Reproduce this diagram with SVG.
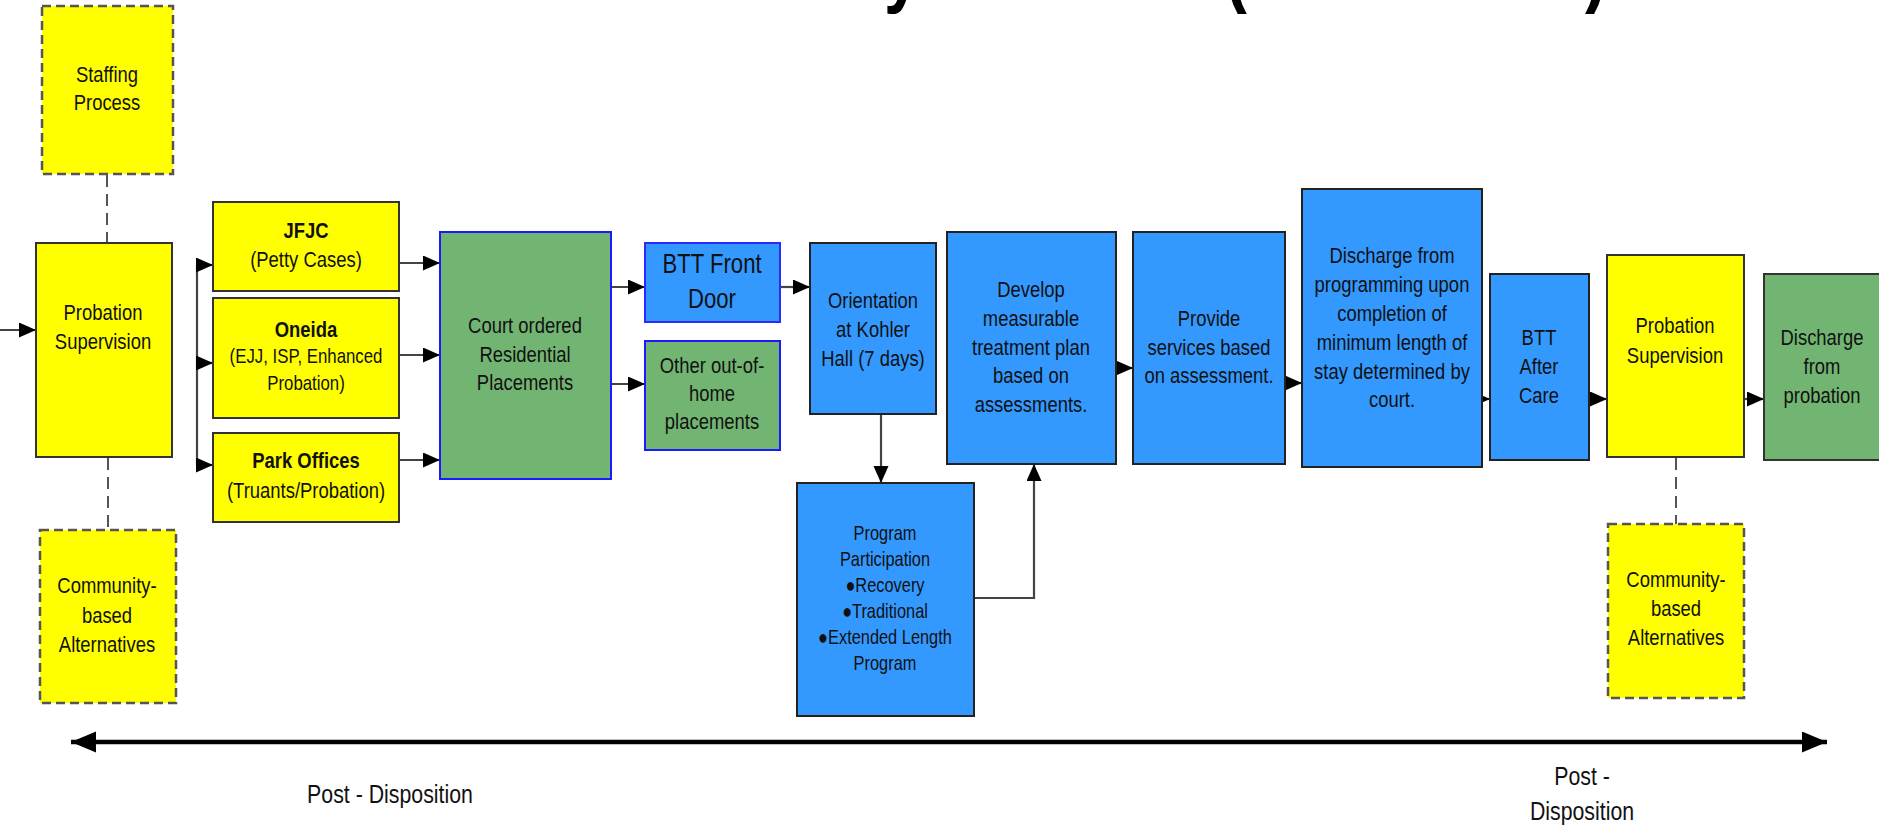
<svg xmlns="http://www.w3.org/2000/svg" width="1879" height="829" viewBox="0 0 1879 829">
<style>
text{font-family:"Liberation Sans",Arial,sans-serif;fill:#111;text-anchor:middle;font-size:22.5px}
.b{font-weight:bold}
.yel{fill:#ffff00;stroke:#333;stroke-width:2}
.dash{fill:#ffff00;stroke:#555;stroke-width:2.5;stroke-dasharray:9 5}
.blu{fill:#3399ff;stroke:#222;stroke-width:2}
.blub{fill:#3399ff;stroke:#2a2aff;stroke-width:2}
.grn{fill:#72b572;stroke:#1a1aff;stroke-width:2}
.grnd{fill:#72b572;stroke:#333;stroke-width:2}
.c{fill:none;stroke:#444;stroke-width:2.2}
.cd{fill:none;stroke:#555;stroke-width:2;stroke-dasharray:12 7}
.tl{fill:none;stroke:#000;stroke-width:4.5}
.title{font-size:80px;font-weight:bold;fill:#000;text-anchor:start}
</style>
<defs>
<marker id="ah" markerUnits="userSpaceOnUse" markerWidth="18" markerHeight="16" refX="17" refY="7.5" orient="auto">
<path d="M0,0 L17,7.5 L0,15 z" fill="#000"/>
</marker>
<marker id="big" markerUnits="userSpaceOnUse" markerWidth="26" markerHeight="22" refX="25" refY="10.5" orient="auto-start-reverse">
<path d="M0,0 L25,10.5 L0,21 z" fill="#000"/>
</marker>
</defs>
<rect width="1879" height="829" fill="#fff"/>
<g id="title-fragments">
<text class="title" x="884" y="-3" transform="translate(884 0) scale(0.82 1) translate(-884 0)">y</text>
<text class="title" x="1225" y="-3" transform="translate(1225 0) scale(0.82 1) translate(-1225 0)">(</text>
<text class="title" x="1585" y="-3" transform="translate(1585 0) scale(0.82 1) translate(-1585 0)">)</text>
</g>
<g id="connectors">
<line class="c" x1="0" y1="330" x2="36" y2="330" marker-end="url(#ah)"/>
<line class="c" x1="197" y1="265" x2="197" y2="465"/>
<line class="c" x1="196" y1="265" x2="213" y2="265" marker-end="url(#ah)"/>
<line class="c" x1="196" y1="363" x2="213" y2="363" marker-end="url(#ah)"/>
<line class="c" x1="196" y1="465" x2="213" y2="465" marker-end="url(#ah)"/>
<line class="c" x1="399" y1="263" x2="440" y2="263" marker-end="url(#ah)"/>
<line class="c" x1="399" y1="355" x2="440" y2="355" marker-end="url(#ah)"/>
<line class="c" x1="399" y1="460" x2="440" y2="460" marker-end="url(#ah)"/>
<line class="c" x1="611" y1="287" x2="645" y2="287" marker-end="url(#ah)"/>
<line class="c" x1="611" y1="384" x2="645" y2="384" marker-end="url(#ah)"/>
<line class="c" x1="780" y1="287" x2="810" y2="287" marker-end="url(#ah)"/>
<line class="c" x1="881" y1="414" x2="881" y2="483" marker-end="url(#ah)"/>
<path class="c" d="M974,598 H1034 V464" marker-end="url(#ah)"/>
<line class="c" x1="1116" y1="368" x2="1133" y2="368" marker-end="url(#ah)"/>
<line class="c" x1="1285" y1="383" x2="1302" y2="383" marker-end="url(#ah)"/>
<line class="c" x1="1482" y1="399" x2="1490" y2="399" marker-end="url(#ah)"/>
<line class="c" x1="1589" y1="399" x2="1607" y2="399" marker-end="url(#ah)"/>
<line class="c" x1="1744" y1="399" x2="1764" y2="399" marker-end="url(#ah)"/>
<line class="cd" x1="107" y1="175" x2="107" y2="243"/>
<line class="cd" x1="108" y1="458" x2="108" y2="530"/>
<line class="cd" x1="1676" y1="458" x2="1676" y2="524"/>
<line class="tl" x1="71" y1="742" x2="1827" y2="742" marker-start="url(#big)" marker-end="url(#big)"/>
</g>
<g id="staffing">
<rect class="dash" x="42" y="6" width="131" height="168"/>
<text transform="translate(107 0) scale(0.82 1)"><tspan x="0" y="82">Staffing</tspan><tspan x="0" y="110">Process</tspan></text>
</g>
<g id="probation1">
<rect class="yel" x="36" y="243" width="136" height="214"/>
<text transform="translate(103 0) scale(0.82 1)"><tspan x="0" y="320">Probation</tspan><tspan x="0" y="349">Supervision</tspan></text>
</g>
<g id="community1">
<rect class="dash" x="40" y="530" width="136" height="173"/>
<text transform="translate(107 0) scale(0.82 1)"><tspan x="0" y="593">Community-</tspan><tspan x="0" y="623">based</tspan><tspan x="0" y="652">Alternatives</tspan></text>
</g>
<g id="jfjc">
<rect class="yel" x="213" y="202" width="186" height="89"/>
<text transform="translate(306 0) scale(0.82 1)"><tspan class="b" x="0" y="238">JFJC</tspan><tspan x="0" y="267">(Petty Cases)</tspan></text>
</g>
<g id="oneida">
<rect class="yel" x="213" y="298" width="186" height="120"/>
<text transform="translate(306 0) scale(0.82 1)"><tspan class="b" x="0" y="337">Oneida</tspan><tspan x="0" y="363" style="font-size:20.5px">(EJJ, ISP, Enhanced</tspan><tspan x="0" y="390" style="font-size:20.5px">Probation)</tspan></text>
</g>
<g id="park">
<rect class="yel" x="213" y="433" width="186" height="89"/>
<text transform="translate(306 0) scale(0.82 1)"><tspan class="b" x="0" y="468">Park Offices</tspan><tspan x="0" y="498">(Truants/Probation)</tspan></text>
</g>
<g id="court">
<rect class="grn" x="440" y="232" width="171" height="247"/>
<text transform="translate(525 0) scale(0.82 1)"><tspan x="0" y="333">Court ordered</tspan><tspan x="0" y="362">Residential</tspan><tspan x="0" y="390">Placements</tspan></text>
</g>
<g id="btt-front-door">
<rect class="blub" x="645" y="243" width="135" height="79"/>
<text transform="translate(712 0) scale(0.82 1)" style="font-size:27px"><tspan x="0" y="273">BTT Front</tspan><tspan x="0" y="308">Door</tspan></text>
</g>
<g id="other-placements">
<rect class="grn" x="645" y="341" width="135" height="109"/>
<text transform="translate(712 0) scale(0.82 1)"><tspan x="0" y="373">Other out-of-</tspan><tspan x="0" y="401">home</tspan><tspan x="0" y="429">placements</tspan></text>
</g>
<g id="orientation">
<rect class="blu" x="810" y="243" width="126" height="171"/>
<text transform="translate(873 0) scale(0.82 1)"><tspan x="0" y="308">Orientation</tspan><tspan x="0" y="337">at Kohler</tspan><tspan x="0" y="366">Hall (7 days)</tspan></text>
</g>
<g id="develop">
<rect class="blu" x="947" y="232" width="169" height="232"/>
<text transform="translate(1031 0) scale(0.82 1)"><tspan x="0" y="297">Develop</tspan><tspan x="0" y="326">measurable</tspan><tspan x="0" y="355">treatment plan</tspan><tspan x="0" y="383">based on</tspan><tspan x="0" y="412">assessments.</tspan></text>
</g>
<g id="provide">
<rect class="blu" x="1133" y="232" width="152" height="232"/>
<text transform="translate(1209 0) scale(0.82 1)"><tspan x="0" y="326">Provide</tspan><tspan x="0" y="355">services based</tspan><tspan x="0" y="383">on assessment.</tspan></text>
</g>
<g id="program">
<rect class="blu" x="797" y="483" width="177" height="233"/>
<text transform="translate(885 0) scale(0.82 1)" style="font-size:20px"><tspan x="0" y="540">Program</tspan><tspan x="0" y="566">Participation</tspan><tspan x="0" y="592">●Recovery</tspan><tspan x="0" y="618">●Traditional</tspan><tspan x="0" y="644">●Extended Length</tspan><tspan x="0" y="670">Program</tspan></text>
</g>
<g id="discharge-programming">
<rect class="blu" x="1302" y="189" width="180" height="278"/>
<text transform="translate(1392 0) scale(0.82 1)"><tspan x="0" y="263">Discharge from</tspan><tspan x="0" y="292">programming upon</tspan><tspan x="0" y="321">completion of</tspan><tspan x="0" y="350">minimum length of</tspan><tspan x="0" y="379">stay determined by</tspan><tspan x="0" y="407">court.</tspan></text>
</g>
<g id="btt-after-care">
<rect class="blu" x="1490" y="274" width="99" height="186"/>
<text transform="translate(1539 0) scale(0.82 1)"><tspan x="0" y="345">BTT</tspan><tspan x="0" y="374">After</tspan><tspan x="0" y="403">Care</tspan></text>
</g>
<g id="probation2">
<rect class="yel" x="1607" y="255" width="137" height="202"/>
<text transform="translate(1675 0) scale(0.82 1)"><tspan x="0" y="333">Probation</tspan><tspan x="0" y="363">Supervision</tspan></text>
</g>
<g id="discharge-probation">
<rect class="grnd" x="1764" y="274" width="130" height="186"/>
<text transform="translate(1822 0) scale(0.82 1)"><tspan x="0" y="345">Discharge</tspan><tspan x="0" y="374">from</tspan><tspan x="0" y="403">probation</tspan></text>
</g>
<g id="community2">
<rect class="dash" x="1608" y="524" width="136" height="174"/>
<text transform="translate(1676 0) scale(0.82 1)"><tspan x="0" y="587">Community-</tspan><tspan x="0" y="616">based</tspan><tspan x="0" y="645">Alternatives</tspan></text>
</g>
<g id="labels">
<text transform="translate(390 0) scale(0.82 1)" style="font-size:26px"><tspan x="0" y="803">Post - Disposition</tspan></text>
<text transform="translate(1582 0) scale(0.82 1)" style="font-size:26px"><tspan x="0" y="785">Post -</tspan><tspan x="0" y="820">Disposition</tspan></text>
</g>
</svg>
